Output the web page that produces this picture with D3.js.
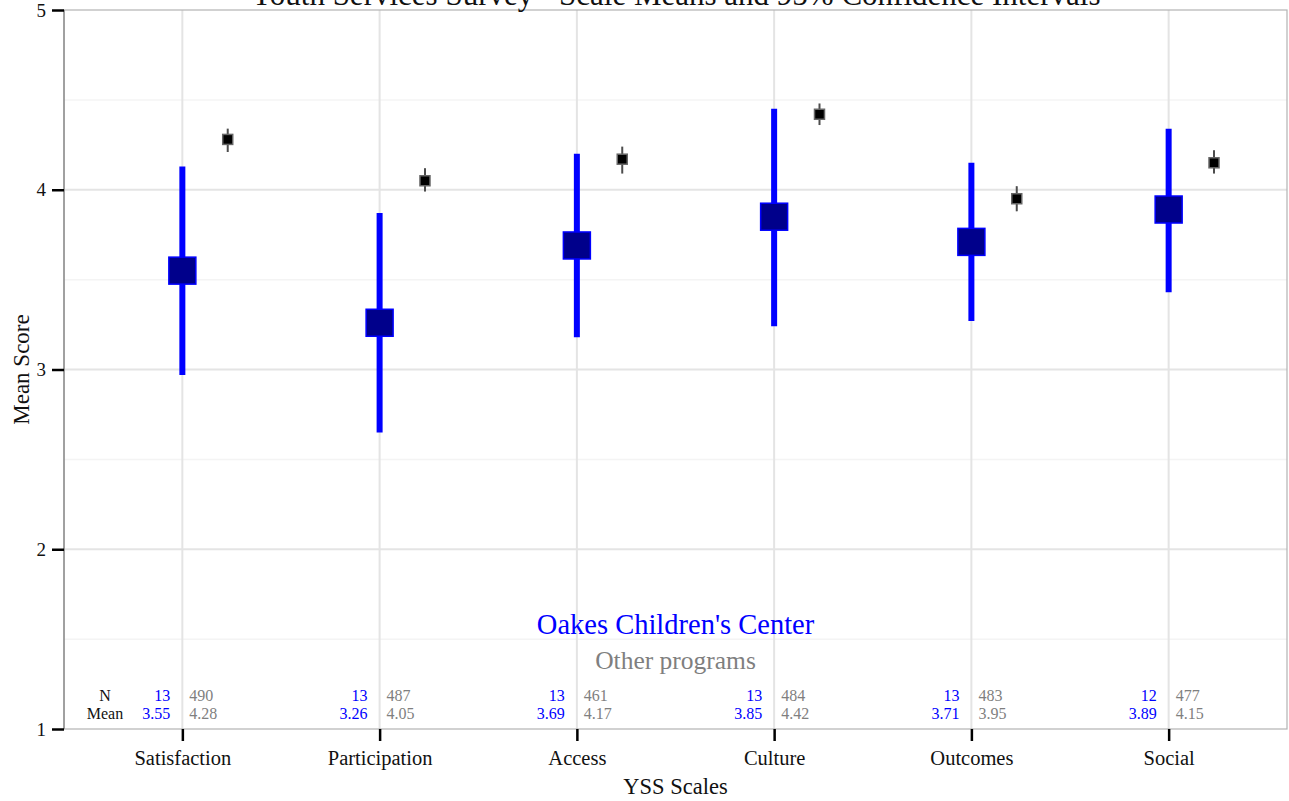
<!DOCTYPE html>
<html>
<head>
<meta charset="utf-8">
<script src="https://cdn.jsdelivr.net/npm/d3@7"></script>
<style>
  body { margin: 0; background: #fff; }
  svg { font-family: "Liberation Serif", "DejaVu Serif", serif; }
</style>
</head>
<body>
<div id="chart"></div>
<script>
const width = 1289;
const height = 801;

// data
const scales = ["Satisfaction", "Participation", "Access", "Culture", "Outcomes", "Social"];
const oakesN = [13, 13, 13, 13, 13, 12];
const oakesMean = [3.55, 3.26, 3.69, 3.85, 3.71, 3.89];
const oakesLow = [2.97, 2.65, 3.18, 3.24, 3.27, 3.43];
const oakesHigh = [4.13, 3.87, 4.20, 4.45, 4.15, 4.34];
const otherN = [490, 487, 461, 484, 483, 477];
const otherMean = [4.28, 4.05, 4.17, 4.42, 3.95, 4.15];
const otherLow = [4.21, 3.99, 4.09, 4.36, 3.88, 4.09];
const otherHigh = [4.34, 4.12, 4.24, 4.48, 4.02, 4.22];
const yTicks = [1, 2, 3, 4, 5];
const yMinor = [1.5, 2.5, 3.5, 4.5];

const margin = { top: 10, right: 2, bottom: 72, left: 64 };
const innerW = width - margin.left - margin.right;
const innerH = height - margin.top - margin.bottom;

const svg = d3
  .select("#chart")
  .append("svg")
  .attr("width", width)
  .attr("height", height);

// ggplot-style discrete expansion: 0.6 units each side
const x = d3
  .scaleLinear()
  .domain([0.4, scales.length + 0.6])
  .range([margin.left, margin.left + innerW]);
const xc = (i) => x(i + 1);

const y = d3
  .scaleLinear()
  .domain([1, 5])
  .range([margin.top + innerH, margin.top]);

const grid = svg.append("g");
grid
  .selectAll(".minor")
  .data(yMinor)
  .enter()
  .append("line")
  .attr("x1", margin.left)
  .attr("x2", margin.left + innerW)
  .attr("y1", (d) => y(d))
  .attr("y2", (d) => y(d))
  .attr("stroke", "#f4f4f4")
  .attr("stroke-width", 1.5);
grid
  .selectAll(".major")
  .data(yTicks.slice(1, -1))
  .enter()
  .append("line")
  .attr("x1", margin.left)
  .attr("x2", margin.left + innerW)
  .attr("y1", (d) => y(d))
  .attr("y2", (d) => y(d))
  .attr("stroke", "#e4e4e4")
  .attr("stroke-width", 2);
grid
  .selectAll(".vert")
  .data(scales)
  .enter()
  .append("line")
  .attr("x1", (d, i) => xc(i))
  .attr("x2", (d, i) => xc(i))
  .attr("y1", margin.top)
  .attr("y2", margin.top + innerH)
  .attr("stroke", "#e4e4e4")
  .attr("stroke-width", 2);

// panel border
svg
  .append("rect")
  .attr("x", margin.left)
  .attr("y", margin.top)
  .attr("width", innerW)
  .attr("height", innerH)
  .attr("fill", "none")
  .attr("stroke", "#b3b3b3")
  .attr("stroke-width", 1.2);
svg
  .append("line")
  .attr("x1", margin.left)
  .attr("x2", margin.left)
  .attr("y1", margin.top)
  .attr("y2", margin.top + innerH)
  .attr("stroke", "#808080")
  .attr("stroke-width", 1.2);

// axes
const yAxis = svg
  .append("g")
  .attr("transform", "translate(" + margin.left + ",0)")
  .call(d3.axisLeft(y).tickValues(yTicks).tickFormat(d3.format("d")).tickSize(12).tickPadding(6));
yAxis.select(".domain").remove();
yAxis.selectAll("line").attr("stroke", "#000").attr("stroke-width", 2.5);
yAxis.selectAll("text").attr("font-size", 19).attr("font-family", "Liberation Serif").attr("fill", "#111");

const xAxis = svg
  .append("g")
  .attr("transform", "translate(0," + (margin.top + innerH) + ")")
  .call(
    d3.axisBottom(x).tickValues(scales.map((d, i) => i + 1)).tickFormat((d) => scales[d - 1]).tickSize(12).tickPadding(9)
  );
xAxis.select(".domain").remove();
xAxis.selectAll("line").attr("stroke", "#000").attr("stroke-width", 2.5);
xAxis.selectAll("text").attr("font-size", 20.5).attr("font-family", "Liberation Serif").attr("fill", "#111");

// other programs (offset right)
const off = 0.23;
const other = svg.append("g");
other
  .selectAll("line")
  .data(scales)
  .enter()
  .append("line")
  .attr("x1", (d, i) => x(i + 1 + off))
  .attr("x2", (d, i) => x(i + 1 + off))
  .attr("y1", (d, i) => y(otherLow[i]))
  .attr("y2", (d, i) => y(otherHigh[i]))
  .attr("stroke", "#4d4d4d")
  .attr("stroke-width", 2);
other
  .selectAll("rect")
  .data(scales)
  .enter()
  .append("rect")
  .attr("x", (d, i) => x(i + 1 + off) - 5)
  .attr("y", (d, i) => y(otherMean[i]) - 5)
  .attr("width", 10)
  .attr("height", 10)
  .attr("fill", "#000")
  .attr("stroke", "#666")
  .attr("stroke-width", 1.5);

// Oakes
const oakes = svg.append("g");
oakes
  .selectAll("line")
  .data(scales)
  .enter()
  .append("line")
  .attr("x1", (d, i) => xc(i))
  .attr("x2", (d, i) => xc(i))
  .attr("y1", (d, i) => y(oakesLow[i]))
  .attr("y2", (d, i) => y(oakesHigh[i]))
  .attr("stroke", "#0000ff")
  .attr("stroke-width", 6);
oakes
  .selectAll("rect")
  .data(scales)
  .enter()
  .append("rect")
  .attr("x", (d, i) => xc(i) - 13.5)
  .attr("y", (d, i) => y(oakesMean[i]) - 13.5)
  .attr("width", 27)
  .attr("height", 27)
  .attr("fill", "#00008b")
  .attr("stroke", "#0000ff")
  .attr("stroke-width", 1.5);

// legend texts inside panel
svg
  .append("text")
  .attr("x", x(3.5))
  .attr("y", 634)
  .attr("text-anchor", "middle")
  .attr("font-size", 28.5)
  .attr("fill", "#0000ff")
  .text("Oakes Children's Center");
svg
  .append("text")
  .attr("x", x(3.5))
  .attr("y", 669)
  .attr("text-anchor", "middle")
  .attr("font-size", 25.5)
  .attr("fill", "#7f7f7f")
  .text("Other programs");

// N / Mean table
const rowN = 701;
const rowM = 719;
svg
  .append("text")
  .attr("x", 105)
  .attr("y", rowN)
  .attr("text-anchor", "middle")
  .attr("font-size", 16)
  .attr("fill", "#111")
  .text("N");
svg
  .append("text")
  .attr("x", 105)
  .attr("y", rowM)
  .attr("text-anchor", "middle")
  .attr("font-size", 16)
  .attr("fill", "#111")
  .text("Mean");

const table = svg.append("g").attr("font-size", 16);
table
  .selectAll(".on")
  .data(scales)
  .enter()
  .append("text")
  .attr("x", (d, i) => xc(i) - 12)
  .attr("y", rowN)
  .attr("text-anchor", "end")
  .attr("fill", "#0000ff")
  .text((d, i) => oakesN[i]);
table
  .selectAll(".om")
  .data(scales)
  .enter()
  .append("text")
  .attr("x", (d, i) => xc(i) - 12)
  .attr("y", rowM)
  .attr("text-anchor", "end")
  .attr("fill", "#0000ff")
  .text((d, i) => oakesMean[i].toFixed(2));
table
  .selectAll(".pn")
  .data(scales)
  .enter()
  .append("text")
  .attr("x", (d, i) => xc(i) + 7)
  .attr("y", rowN)
  .attr("fill", "#7f7f7f")
  .text((d, i) => otherN[i]);
table
  .selectAll(".pm")
  .data(scales)
  .enter()
  .append("text")
  .attr("x", (d, i) => xc(i) + 7)
  .attr("y", rowM)
  .attr("fill", "#7f7f7f")
  .text((d, i) => otherMean[i].toFixed(2));

// titles
svg
  .append("text")
  .attr("x", x(3.5))
  .attr("y", 5)
  .attr("text-anchor", "middle")
  .attr("font-size", 31)
  .attr("fill", "#111")
  .text("Youth Services Survey - Scale Means and 95% Confidence Intervals");
svg
  .append("text")
  .attr("x", x(3.5))
  .attr("y", 794)
  .attr("text-anchor", "middle")
  .attr("font-size", 22.5)
  .attr("fill", "#111")
  .text("YSS Scales");
svg
  .append("text")
  .attr("transform", "translate(29," + y(3) + ") rotate(-90)")
  .attr("text-anchor", "middle")
  .attr("font-size", 23)
  .attr("fill", "#111")
  .text("Mean Score");
</script>
</body>
</html>
